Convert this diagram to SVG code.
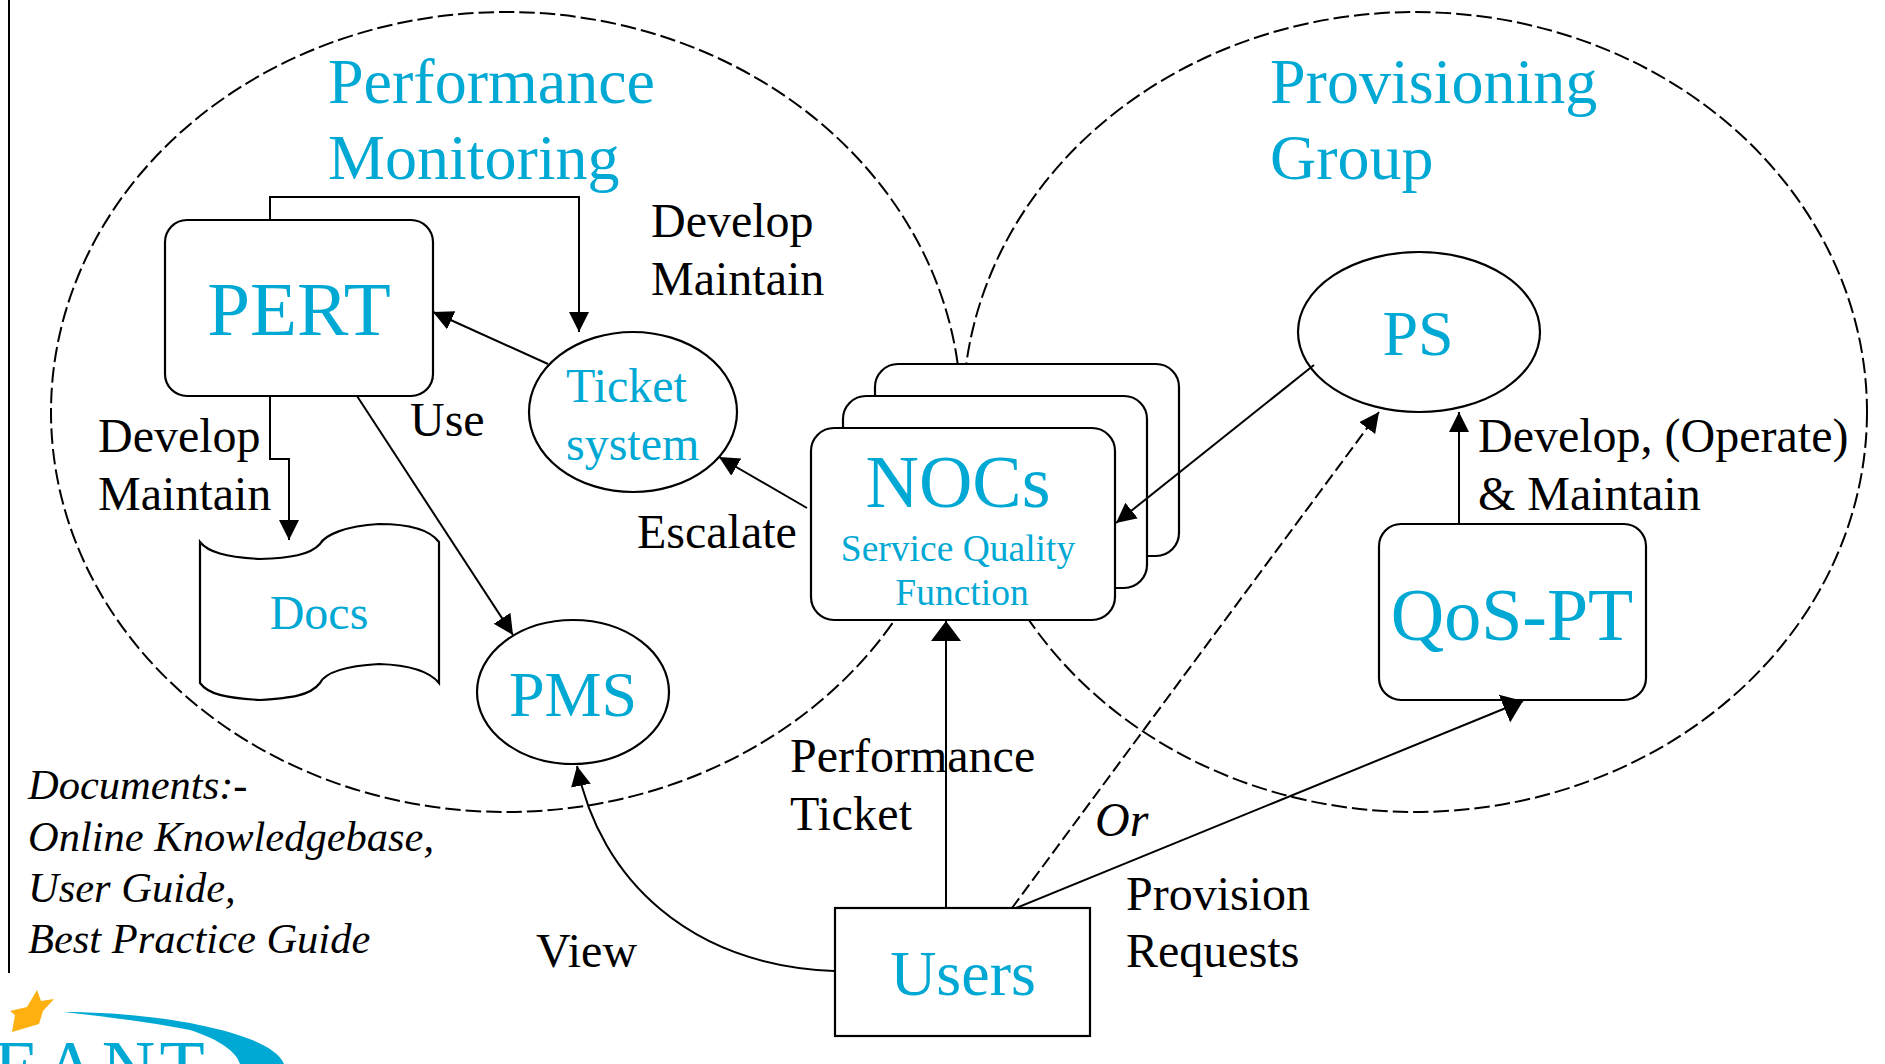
<svg xmlns="http://www.w3.org/2000/svg" width="1885" height="1064" viewBox="0 0 1885 1064">
<style>
text{font-family:"Liberation Serif","Times New Roman",serif}
.c{fill:#00a8d4}
.k{fill:#000;font-size:48px}
.i{fill:#000;font-size:42.5px;font-style:italic}
.s{fill:#fff;stroke:#000;stroke-width:2.2}
.d{fill:none;stroke:#000;stroke-width:2;stroke-dasharray:15.5 5}
.l{fill:none;stroke:#000;stroke-width:2}
.m{text-anchor:middle}
</style>
<defs>
<marker id="a" markerUnits="userSpaceOnUse" markerWidth="24" markerHeight="24" refX="20" refY="10" orient="auto"><path d="M0,0L20,10L0,20Z"/></marker>
<marker id="b" markerUnits="userSpaceOnUse" markerWidth="24" markerHeight="32" refX="20" refY="15" orient="auto"><path d="M0,0L20,15L0,30Z"/></marker>
</defs>
<rect width="1885" height="1064" fill="#fff"/>
<path d="M9,0V973" class="l"/>
<g id="performance-monitoring">
<ellipse cx="506" cy="412" rx="455" ry="400" class="d"/>
<text x="328" y="103" font-size="64" class="c">Performance</text>
<text x="328" y="179" font-size="64" class="c">Monitoring</text>
</g>
<g id="provisioning-group">
<ellipse cx="1415" cy="412" rx="452" ry="400" class="d"/>
<text x="1270" y="103" font-size="64" class="c">Provisioning</text>
<text x="1270" y="179" font-size="64" class="c">Group</text>
</g>
<g id="pert"><rect x="165" y="220" width="268" height="176" rx="22" class="s"/><text x="299" y="335" font-size="77" class="c m">PERT</text></g>
<g id="ticket-system"><ellipse cx="633" cy="412" rx="104" ry="80" class="s"/><text x="566" y="402" font-size="48" class="c">Ticket</text><text x="566" y="460" font-size="48" class="c">system</text></g>
<g id="docs"><path d="M200,542C208,552 225,557 260,559C290,558 310,555 320,544C325,535 345,526 379,524C410,524 430,530 439,542V683C430,672 410,665 379,664C345,666 325,673 320,683C310,696 290,698 260,700C225,698 208,694 200,683Z" class="s"/><text x="319" y="629" font-size="48" class="c m">Docs</text></g>
<g id="pms"><ellipse cx="573" cy="692" rx="96" ry="72" class="s"/><text x="573" y="716" font-size="64" class="c m">PMS</text></g>
<g id="nocs">
<rect x="875" y="364" width="304" height="192" rx="23" class="s"/>
<rect x="843" y="396" width="304" height="192" rx="23" class="s"/>
<rect x="811" y="428" width="304" height="192" rx="23" class="s"/>
<text x="958" y="507" font-size="74" class="c m">NOCs</text>
<text x="958" y="561" font-size="37.5" class="c m">Service Quality</text>
<text x="962" y="605" font-size="37.5" class="c m">Function</text>
</g>
<g id="ps"><ellipse cx="1419" cy="332" rx="121" ry="80" class="s"/><text x="1418" y="355" font-size="64" class="c m">PS</text></g>
<g id="qos-pt"><rect x="1379" y="524" width="267" height="176" rx="22" class="s"/><text x="1512" y="640" font-size="74" class="c m">QoS-PT</text></g>
<g id="users"><rect x="835" y="908" width="255" height="128" class="s"/><text x="963" y="995" font-size="64" class="c m">Users</text></g>
<g id="connectors">
<path d="M270,220V197H579V332" class="l" marker-end="url(#a)"/>
<path d="M270,396V459H289V540" class="l" marker-end="url(#a)"/>
<path d="M357,396L513,635" class="l" marker-end="url(#a)"/>
<path d="M548,364L433,312" class="l" marker-end="url(#a)"/>
<path d="M807,508L719,457" class="l" marker-end="url(#a)"/>
<path d="M1314,365L1116,523" class="l" marker-end="url(#a)"/>
<path d="M946,908V621" class="l" marker-end="url(#b)"/>
<path d="M1012,908L1379,412" class="l" stroke-dasharray="12 5" marker-end="url(#a)"/>
<path d="M1016,908L1523,701" class="l" marker-end="url(#b)"/>
<path d="M1459,524V412" class="l" marker-end="url(#a)"/>
<path d="M834,971C690,965 600,880 577,766" class="l" marker-end="url(#a)"/>
</g>
<g id="labels">
<text x="651" y="237" class="k">Develop</text><text x="651" y="295" class="k">Maintain</text>
<text x="98" y="452" class="k">Develop</text><text x="98" y="510" class="k">Maintain</text>
<text x="410" y="436" class="k">Use</text>
<text x="637" y="548" class="k">Escalate</text>
<text x="1478" y="452" class="k">Develop, (Operate)</text><text x="1478" y="510" class="k">&amp; Maintain</text>
<text x="790" y="772" class="k">Performance</text><text x="790" y="830" class="k" textLength="122">Ticket</text>
<text x="1095" y="836" class="k" font-style="italic">Or</text>
<text x="1126" y="910" class="k">Provision</text><text x="1126" y="967" class="k">Requests</text>
<text x="536" y="967" class="k">View</text>
<text x="28" y="799" class="i">Documents:-</text>
<text x="28" y="851" class="i">Online Knowledgebase,</text>
<text x="28" y="902" class="i">User Guide,</text>
<text x="28" y="953" class="i">Best Practice Guide</text>
</g>
<g id="logo">
<path d="M37,990L41,1001L54,999L43,1011L39,1024L12,1032L15,1015L10,1011L27,1007Z" fill="#fdb00f"/>
<path d="M63,1012C110,1012 150,1016 190,1023C225,1030 275,1042 284,1064H240C236,1050 215,1038 190,1030C150,1022 100,1016 63,1012Z" fill="#00a8d4"/>
<text x="-6" y="1092" font-size="74" letter-spacing="4.5" class="c">EANT</text>
</g>
</svg>
